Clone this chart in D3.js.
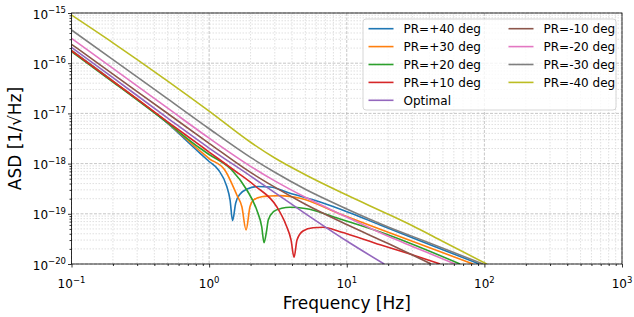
<!DOCTYPE html>
<html>
<head>
<meta charset="utf-8">
<script src="https://cdn.jsdelivr.net/npm/d3@7"></script>
<style>
body { margin: 0; background: #fff; }
text { font-family: "DejaVu Sans", sans-serif; fill: #000; }
</style>
</head>
<body>
<svg width="634" height="317"></svg>
<script>
// values (frequency in Hz, ASD in 1/sqrt(Hz))
var freqP40 = [0.1, 0.2, 0.5, 0.86, 1.0, 1.17, 1.34, 1.42, 1.48, 1.56, 1.68, 1.89, 2.27, 2.77, 3.87, 6.4, 10.6, 17.5, 40.3, 91.5]
var asdP40 = [1.80e-16, 4.40e-17, 6.30e-18, 1.60e-18, 1.10e-18, 7.46e-19, 3.58e-19, 1.88e-19, 7.3e-20, 1.64e-19, 2.48e-19, 3.12e-19, 3.50e-19, 3.42e-19, 2.56e-19, 1.72e-19, 1.04e-19, 5.98e-20, 2.43e-20, 1.0e-20]

var freqP30 = [0.1, 0.2, 0.5, 0.86, 1.0, 1.3, 1.59, 1.73, 1.855, 1.98, 2.1, 2.41, 2.77, 3.28, 4.58, 8.94, 17.5, 82.8]
var asdP30 = [1.78e-16, 4.40e-17, 6.50e-18, 1.78e-18, 1.26e-18, 7.46e-19, 2.37e-19, 1.38e-19, 4.75e-20, 1.38e-19, 1.88e-19, 2.19e-19, 2.26e-19, 2.30e-19, 2.04e-19, 9.9e-20, 4.91e-20, 1.0e-20]

var freqP20 = [0.1, 0.2, 0.5, 0.86, 1.0, 1.46, 1.88, 2.22, 2.41, 2.506, 2.62, 2.69, 2.93, 3.37, 3.87, 4.98, 8.94, 17.5, 66.5]
var asdP20 = [1.70e-16, 4.22e-17, 6.45e-18, 2.02e-18, 1.52e-18, 7.46e-19, 2.98e-19, 1.19e-19, 5.53e-20, 2.65e-20, 4.75e-20, 7.52e-20, 1.10e-19, 1.29e-19, 1.35e-19, 1.28e-19, 7.87e-20, 4.34e-20, 1.0e-20]

var freqP10 = [0.1, 0.2, 0.5, 0.86, 1.0, 1.51, 2.16, 3.1, 3.62, 3.94, 4.14, 4.35, 4.81, 5.69, 6.73, 8.94, 17.5, 28.8, 47.7]
var asdP10 = [1.76e-16, 4.35e-17, 6.80e-18, 2.30e-18, 1.70e-18, 7.46e-19, 3.58e-19, 1.38e-19, 5.98e-20, 3.0e-20, 1.36e-20, 3.0e-20, 4.54e-20, 5.28e-20, 5.38e-20, 4.40e-20, 2.42e-20, 1.58e-20, 1.0e-20]

var freqOpt = [0.1, 0.2, 0.5, 1, 2, 3, 5, 10, 18.7]
var asdOpt = [2.07e-16, 5.14e-17, 8.09e-18, 2.04e-18, 5.64e-19, 2.64e-19, 1.01e-19, 2.87e-20, 1.0e-20]

var freqM10 = [0.1, 0.2, 0.5, 1, 2, 3, 5, 10, 20, 30, 41]
var asdM10 = [2.38e-16, 6.07e-17, 9.95e-18, 2.54e-18, 6.68e-19, 3.39e-19, 1.55e-19, 6.1e-20, 2.55e-20, 1.51e-20, 1.0e-20]

var freqM20 = [0.1, 0.2, 0.5, 1, 2, 3, 5, 10, 20, 30, 50, 61.2]
var asdM20 = [3.13e-16, 7.87e-17, 1.27e-17, 3.21e-18, 8.83e-19, 4.52e-19, 2.13e-19, 8.6e-20, 3.56e-20, 2.24e-20, 1.26e-20, 1.0e-20]

var freqM30 = [0.1, 0.2, 0.5, 1, 2, 3, 5, 10, 20, 30, 50, 97.7]
var asdM30 = [4.58e-16, 1.18e-16, 1.94e-17, 4.95e-18, 1.33e-18, 6.71e-19, 3.08e-19, 1.25e-19, 5.48e-20, 3.55e-20, 2.06e-20, 1.0e-20]

var freqM40 = [0.1, 0.2, 0.5, 1, 2, 3, 5, 10, 20, 30, 50, 104]
var asdM40 = [9.1e-16, 2.55e-16, 4.41e-17, 1.11e-17, 2.66e-18, 1.29e-18, 6.0e-19, 2.36e-19, 9.8e-20, 5.77e-20, 2.81e-20, 1.0e-20]

var labels = ['PR=+40 deg', 'PR=+30 deg', 'PR=+20 deg', 'PR=+10 deg', 'Optimal',
  'PR=-10 deg', 'PR=-20 deg', 'PR=-30 deg', 'PR=-40 deg']
var freqs = [freqP40, freqP30, freqP20, freqP10, freqOpt, freqM10, freqM20, freqM30, freqM40]
var asds = [asdP40, asdP30, asdP20, asdP10, asdOpt, asdM10, asdM20, asdM30, asdM40]

var xDecades = [0.1, 1, 10, 100, 1000]
var yDecades = [1e-20, 1e-19, 1e-18, 1e-17, 1e-16, 1e-15]

var cols = d3.scaleOrdinal(d3.schemeCategory10)

var svg = d3.select('svg')
var pl = 71.5, pr = 622, pt = 13, pb = 264

var x = d3.scaleLog().domain([0.1, 1000]).range([pl, pr])
var y = d3.scaleLog().domain([1e-20, 1e-15]).range([pb, pt])

// minor positions: 2..9 of every decade
var xMinor = []
xDecades.slice(0, -1).forEach(function (d) {
  for (var k = 2; k < 10; k++) xMinor.push(d * k)
})
var yMinor = []
yDecades.slice(0, -1).forEach(function (d) {
  for (var k = 2; k < 10; k++) yMinor.push(d * k)
})

// grid
var grid = svg.append('g')
grid.selectAll('.xmin').data(xMinor).enter().append('line')
    .attr('x1', function (d) { return x(d) }).attr('x2', function (d) { return x(d) })
    .attr('y1', pt).attr('y2', pb)
    .attr('stroke', '#d2d2d2').attr('stroke-width', 0.7).attr('stroke-dasharray', '1.5,1.5')
grid.selectAll('.ymin').data(yMinor).enter().append('line')
    .attr('y1', function (d) { return y(d) }).attr('y2', function (d) { return y(d) })
    .attr('x1', pl).attr('x2', pr)
    .attr('stroke', '#d2d2d2').attr('stroke-width', 0.7).attr('stroke-dasharray', '1.5,1.5')
grid.selectAll('.xmaj').data(xDecades).enter().append('line')
    .attr('x1', function (d) { return x(d) }).attr('x2', function (d) { return x(d) })
    .attr('y1', pt).attr('y2', pb)
    .attr('stroke', '#b8b8b8').attr('stroke-width', 0.8).attr('stroke-dasharray', '3,1.5')
grid.selectAll('.ymaj').data(yDecades).enter().append('line')
    .attr('y1', function (d) { return y(d) }).attr('y2', function (d) { return y(d) })
    .attr('x1', pl).attr('x2', pr)
    .attr('stroke', '#b8b8b8').attr('stroke-width', 0.8).attr('stroke-dasharray', '3,1.5')

// curves
svg.append('clipPath').attr('id', 'clip').append('rect')
    .attr('x', pl).attr('y', pt).attr('width', pr - pl).attr('height', pb - pt)

var line = d3.line()
    .x(function (d) { return x(d[0]) })
    .y(function (d) { return y(d[1]) })
    .curve(d3.curveMonotoneX)

svg.append('g').attr('clip-path', 'url(#clip)')
    .selectAll('path')
    .data(labels)
    .enter()
    .append('path')
    .attr('d', function (d, i) {
      return line(freqs[i].map(function (f, j) { return [f, asds[i][j]] }))
    })
    .attr('fill', 'none')
    .attr('stroke', function (d, i) { return cols(i) })
    .attr('stroke-width', 1.6)

// axes ticks
function clean (g) { g.select('.domain').remove(); g.selectAll('line').attr('stroke', '#000').attr('stroke-width', 0.8) }
svg.append('g').attr('transform', 'translate(0,' + pb + ')')
    .call(d3.axisBottom(x).tickValues(xMinor).tickSize(2).tickFormat(''))
    .call(clean)
svg.append('g').attr('transform', 'translate(0,' + pb + ')')
    .call(d3.axisBottom(x).tickValues(xDecades).tickSize(3.5).tickFormat(''))
    .call(clean)
svg.append('g').attr('transform', 'translate(' + pl + ',0)')
    .call(d3.axisLeft(y).tickValues(yMinor).tickSize(2).tickFormat(''))
    .call(clean)
svg.append('g').attr('transform', 'translate(' + pl + ',0)')
    .call(d3.axisLeft(y).tickValues(yDecades).tickSize(3.5).tickFormat(''))
    .call(clean)

// frame
svg.append('rect')
    .attr('x', pl).attr('y', pt).attr('width', pr - pl).attr('height', pb - pt)
    .attr('fill', 'none').attr('stroke', '#000').attr('stroke-width', 0.8)

// tick labels as 10^n
function powLabel (sel) {
  sel.append('tspan').text('10')
  sel.append('tspan').attr('font-size', 8.5).attr('dy', -5.5)
      .text(function (d) { return String(Math.round(Math.log10(d))).replace('-', '\u2212') })
}
svg.selectAll('.xlab').data(xDecades).enter().append('text')
    .attr('x', function (d) { return x(d) }).attr('y', 288)
    .attr('text-anchor', 'middle').attr('font-size', 12)
    .call(powLabel)
svg.selectAll('.ylab').data(yDecades).enter().append('text')
    .attr('x', 66).attr('y', function (d) { return y(d) + 5.5 })
    .attr('text-anchor', 'end').attr('font-size', 12)
    .call(powLabel)

// axis titles
svg.append('text').attr('x', (pl + pr) / 2).attr('y', 309)
    .attr('text-anchor', 'middle').attr('font-size', 17).text('Frequency [Hz]')
svg.append('text').attr('transform', 'translate(21,' + ((pt + pb) / 2) + ') rotate(-90)')
    .attr('text-anchor', 'middle').attr('font-size', 17).text('ASD [1/\u221aHz]')

// legend
var leg = svg.append('g')
leg.append('rect').attr('x', 363).attr('y', 19).attr('width', 253).attr('height', 91).attr('rx', 3)
    .attr('fill', '#fff').attr('fill-opacity', 0.8).attr('stroke', '#cccccc').attr('stroke-width', 0.8)
var items = leg.selectAll('.item').data(labels).enter().append('g')
    .attr('transform', function (d, i) {
      var c = i < 5 ? 0 : 1, r = i < 5 ? i : i - 5
      return 'translate(' + (368.5 + c * 140) + ',' + (28.7 + r * 17.9) + ')'
    })
items.append('line').attr('x1', 0).attr('x2', 25)
    .attr('stroke', function (d, i) { return cols(i) }).attr('stroke-width', 1.6)
items.append('text').attr('x', 35).attr('y', 4.3).attr('font-size', 12)
    .text(function (d) { return d })
</script>
</body>
</html>
